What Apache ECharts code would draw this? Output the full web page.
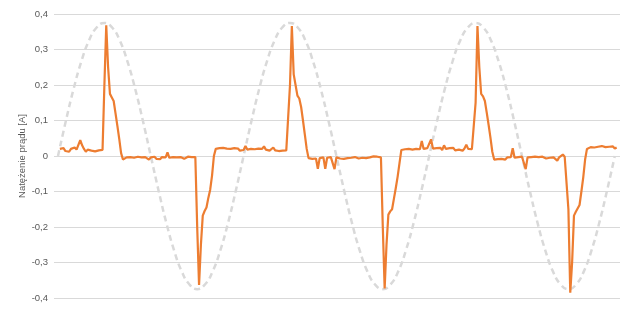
<!DOCTYPE html>
<html>
<head>
<meta charset="utf-8">
<script src="https://cdn.jsdelivr.net/npm/echarts@6/dist/echarts.min.js"></script>
<style>html,body{margin:0;padding:0;background:#fff}#c{width:640px;height:320px}</style>
</head>
<body>
<div id="c"></div>
<script>
// y-axis tick labels
const yTicks = [-0.4, -0.3, -0.2, -0.1, 0, 0.1, 0.2, 0.3, 0.4];
const yAxisName = 'Natężenie prądu [A]';

// reference (voltage-shaped) curve, scaled, sampled every 15 degrees (period 20 ms)
const refStepMs = 20 / 24;
const reference = [
  0, 0.097, 0.1875, 0.265, 0.325, 0.362, 0.375, 0.362, 0.325, 0.265, 0.1875, 0.097,
  0, -0.097, -0.1875, -0.265, -0.325, -0.362, -0.375, -0.362, -0.325, -0.265, -0.1875, -0.097,
  0, 0.097, 0.1875, 0.265, 0.325, 0.362, 0.375, 0.362, 0.325, 0.265, 0.1875, 0.097,
  0, -0.097, -0.1875, -0.265, -0.325, -0.362, -0.375, -0.362, -0.325, -0.265, -0.1875, -0.097,
  0, 0.097, 0.1875, 0.265, 0.325, 0.362, 0.375, 0.362, 0.325, 0.265, 0.1875, 0.097,
  0, -0.097, -0.1875, -0.265, -0.325, -0.362, -0.375, -0.362, -0.325, -0.265, -0.1875, -0.097,
  0
];

// measured current [A], sampled every 0.2 ms starting at 0.2 ms
const currentStartMs = 0.2;
const currentStepMs = 0.2;
const current = [
  0.02, 0.015, 0.022, 0.014, 0.018, 0.012, 0.02, 0.016, 0.024, 0.018,
  0.022, 0.045, 0.03, 0.02, 0.012, 0.018, 0.022, 0.015, 0.02, 0.013,
  0.018, 0.016, 0.021, 0.017, 0.2, 0.368, 0.25, 0.175, 0.165, 0.155,
  0.12, 0.085, 0.048, 0.008, -0.01, -0.014, -0.004, -0.009, -0.003, -0.008,
  -0.005, -0.01, -0.002, -0.007, -0.004, -0.009, -0.003, -0.006, -0.01, -0.004,
  -0.007, -0.002, -0.008, -0.005, -0.009, -0.003, -0.006, -0.004, 0.01, -0.005,
  -0.008, -0.003, -0.006, -0.004, -0.007, -0.003, -0.005, -0.008, -0.004, -0.002,
  -0.006, -0.003, -0.005, -0.003, -0.2, -0.363, -0.25, -0.168, -0.155, -0.145,
  -0.118, -0.095, -0.055, 0.0, 0.02, 0.024, 0.022, 0.018, 0.023, 0.019,
  0.021, 0.016, 0.02, 0.017, 0.022, 0.018, 0.021, 0.015, 0.02, 0.017,
  0.028, 0.018, 0.016, 0.02, 0.015, 0.019, 0.017, 0.021, 0.016, 0.02,
  0.027, 0.018, 0.022, 0.015, 0.019, 0.024, 0.016, 0.02, 0.014, 0.018,
  0.015, 0.019, 0.016, 0.018, 0.2, 0.366, 0.23, 0.2, 0.17, 0.162,
  0.138, 0.1, 0.06, 0.02, -0.006, -0.005, -0.008, -0.003, -0.007, -0.036,
  -0.006, -0.009, -0.004, -0.036, -0.005, -0.008, -0.003, -0.006, -0.037, -0.004,
  -0.002, -0.007, -0.004, -0.008, -0.003, -0.006, -0.002, -0.005, -0.008, -0.003,
  -0.004, -0.007, -0.002, -0.005, -0.003, -0.006, -0.002, -0.004, -0.003, -0.001,
  0.004, -0.002, -0.003, -0.004, -0.2, -0.373, -0.25, -0.165, -0.156, -0.15,
  -0.12, -0.09, -0.058, -0.02, 0.017, 0.022, 0.019, 0.024, 0.02, 0.023,
  0.018, 0.022, 0.02, 0.025, 0.019, 0.042, 0.02, 0.017, 0.022, 0.019,
  0.047, 0.021, 0.016, 0.022, 0.018, 0.023, 0.017, 0.03, 0.02, 0.016,
  0.022, 0.018, 0.023, 0.016, 0.021, 0.018, 0.02, 0.015, 0.021, 0.032,
  0.02, 0.016, 0.019, 0.018, 0.15, 0.366, 0.25, 0.175, 0.168, 0.155,
  0.122, 0.088, 0.052, 0.012, -0.01, -0.006, -0.009, -0.004, -0.008, -0.005,
  -0.01, -0.004, -0.007, -0.003, 0.022, -0.005, -0.008, -0.003, -0.006, -0.002,
  -0.005, -0.037, -0.004, -0.007, -0.003, -0.005, -0.002, -0.006, -0.003, -0.005,
  -0.002, -0.004, -0.007, -0.003, -0.005, -0.002, -0.004, -0.006, -0.013, -0.004,
  -0.002, 0.004, -0.002, -0.003, -0.15, -0.385, -0.3, -0.168, -0.157, -0.152,
  -0.138, -0.1, -0.06, -0.01, 0.02, 0.022, 0.025, 0.02, 0.024, 0.021,
  0.026, 0.022, 0.028, 0.023, 0.025, 0.02, 0.026, 0.022, 0.027, 0.021,
  0.024
];

const refData = reference.map((v, k) => [k * refStepMs, v]);
const curData = current.map((v, k) => [currentStartMs + k * currentStepMs, v]);

const chart = echarts.init(document.getElementById('c'), null, {renderer: 'canvas'});
chart.setOption({
  animation: false,
  backgroundColor: '#ffffff',
  grid: {left: 54, right: 20, top: 14, bottom: 22, containLabel: false},
  xAxis: {
    type: 'value', min: -0.43, max: 60.56,
    axisLine: {show: false}, axisTick: {show: false},
    axisLabel: {show: false}, splitLine: {show: false}
  },
  yAxis: {
    type: 'value', min: yTicks[0], max: yTicks[yTicks.length - 1], interval: 0.1,
    name: yAxisName, nameLocation: 'middle', nameGap: 27, nameRotate: 90,
    nameMoveOverlap: false,
    nameTextStyle: {color: '#595959', fontSize: 9.5, fontFamily: 'Liberation Sans'},
    axisLine: {show: false}, axisTick: {show: false},
    axisLabel: {
      color: '#595959', fontSize: 9.5, fontFamily: 'Liberation Sans', margin: 6,
      formatter: v => Math.abs(v) < 1e-9 ? '0' : v.toFixed(1).replace('.', ',')
    },
    splitLine: {lineStyle: {color: '#d9d9d9', width: 1}}
  },
  series: [
    {
      type: 'line', data: refData, smooth: true, symbol: 'none',
      lineStyle: {color: '#d9d9d9', width: 2.5, type: [6, 4]},
      z: 1
    },
    {
      type: 'line', data: curData, symbol: 'none',
      lineStyle: {color: '#ED7D31', width: 2.2},
      z: 2
    }
  ]
});
</script>
</body>
</html>
